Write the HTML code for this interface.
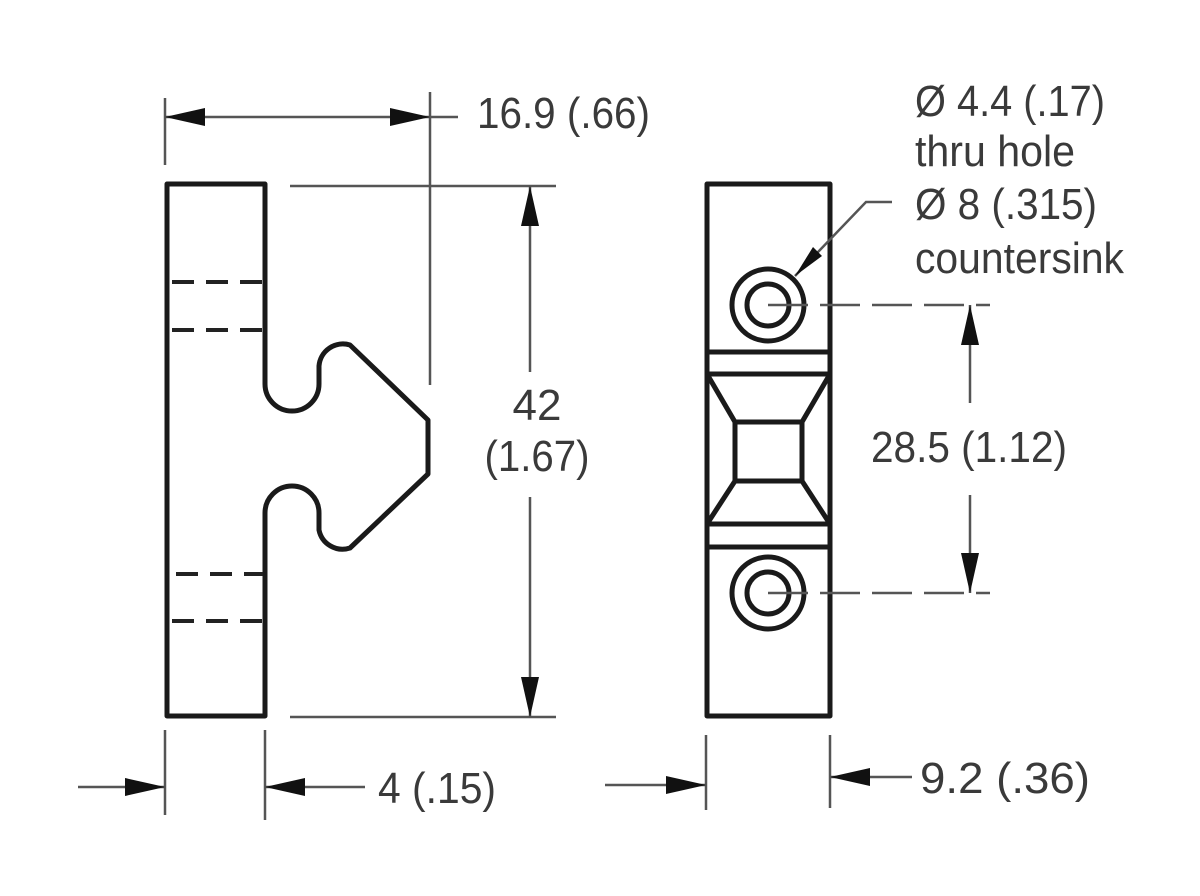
<!DOCTYPE html>
<html><head><meta charset="utf-8"><style>
html,body{margin:0;padding:0;background:#fff;}
svg{display:block;}
text{font-family:"Liberation Sans",Arial,sans-serif;fill:#3a3a3a;font-size:44px;}
</style></head><body>
<svg width="1200" height="896" viewBox="0 0 1200 896" xmlns="http://www.w3.org/2000/svg">
<defs>
<marker id="ah" viewBox="0 0 40 18" refX="40" refY="9" markerWidth="40" markerHeight="18" markerUnits="userSpaceOnUse" orient="auto">
<path d="M0,0 L40,9 L0,18 Z" fill="#111"/>
</marker>
</defs>
<g fill="none" stroke="#1a1a1a" stroke-width="5" stroke-linejoin="round">
<path d="M167,184 L265,184 L265,384 A27,27 0 0 0 319,384 L319,366 A24,24 0 0 1 350,345 L428,420 L428,474 L350,548 A24,24 0 0 1 319,530 L319,513 A27,27 0 0 0 265,513 L265,716 L167,716 Z"/>
<rect x="707" y="184" width="123" height="532"/>
<line x1="707" y1="352" x2="830" y2="352"/>
<line x1="707" y1="374" x2="830" y2="374"/>
<line x1="707" y1="524" x2="830" y2="524"/>
<line x1="707" y1="547" x2="830" y2="547"/>
<rect x="735" y="422" width="67" height="59"/>
<line x1="707" y1="374" x2="735" y2="422"/>
<line x1="830" y1="374" x2="802" y2="422"/>
<line x1="707" y1="524" x2="735" y2="481"/>
<line x1="830" y1="524" x2="802" y2="481"/>
<circle cx="768" cy="305" r="36"/>
<circle cx="768" cy="305" r="21"/>
<circle cx="768" cy="593" r="36"/>
<circle cx="768" cy="593" r="21"/>
</g>
<g stroke="#222" stroke-width="4" stroke-dasharray="22,12">
<line x1="172" y1="282" x2="263" y2="282"/>
<line x1="172" y1="330" x2="263" y2="330"/>
<line x1="176" y1="574" x2="263" y2="574"/>
<line x1="172" y1="621" x2="263" y2="621"/>
</g>
<g stroke="#555" stroke-width="2.5" fill="none">
<line x1="165" y1="98" x2="165" y2="165"/>
<line x1="430" y1="92" x2="430" y2="385"/>
<line x1="300" y1="117" x2="165" y2="117" marker-end="url(#ah)"/>
<line x1="300" y1="117" x2="430" y2="117" marker-end="url(#ah)"/>
<line x1="430" y1="117" x2="458" y2="117"/>
<line x1="290" y1="186" x2="556" y2="186"/>
<line x1="290" y1="717" x2="556" y2="717"/>
<line x1="530" y1="372" x2="530" y2="186" marker-end="url(#ah)"/>
<line x1="530" y1="497" x2="530" y2="717" marker-end="url(#ah)"/>
<line x1="768" y1="305" x2="990" y2="305" stroke-dasharray="40,12"/>
<line x1="768" y1="593" x2="990" y2="593" stroke-dasharray="40,12"/>
<line x1="970" y1="403" x2="970" y2="305" marker-end="url(#ah)"/>
<line x1="970" y1="495" x2="970" y2="593" marker-end="url(#ah)"/>
<line x1="165" y1="730" x2="165" y2="815"/>
<line x1="265" y1="730" x2="265" y2="820"/>
<line x1="78" y1="787" x2="165" y2="787" marker-end="url(#ah)"/>
<line x1="365" y1="787" x2="265" y2="787" marker-end="url(#ah)"/>
<line x1="706" y1="735" x2="706" y2="810"/>
<line x1="830" y1="735" x2="830" y2="808"/>
<line x1="605" y1="785" x2="706" y2="785" marker-end="url(#ah)"/>
<line x1="912" y1="777" x2="830" y2="777" marker-end="url(#ah)"/>
<polyline points="892,202 866,202 795,276"/>
</g>
<path d="M795,276 L813,247 L822,256 Z" fill="#111"/>
<text x="477" y="128" textLength="173" lengthAdjust="spacingAndGlyphs">16.9 (.66)</text>
<text x="537" y="420" text-anchor="middle">42</text>
<text x="537" y="471" text-anchor="middle" textLength="105" lengthAdjust="spacingAndGlyphs">(1.67)</text>
<text x="871" y="462" textLength="196" lengthAdjust="spacingAndGlyphs">28.5 (1.12)</text>
<text x="378" y="803" textLength="118" lengthAdjust="spacingAndGlyphs">4 (.15)</text>
<text x="920" y="793" textLength="170" lengthAdjust="spacingAndGlyphs">9.2 (.36)</text>
<text x="915" y="116" textLength="190" lengthAdjust="spacingAndGlyphs">Ø 4.4 (.17)</text>
<text x="915" y="166" textLength="160" lengthAdjust="spacingAndGlyphs">thru hole</text>
<text x="915" y="219" textLength="182" lengthAdjust="spacingAndGlyphs">Ø 8 (.315)</text>
<text x="915" y="273" textLength="209" lengthAdjust="spacingAndGlyphs">countersink</text>
</svg>
</body></html>
